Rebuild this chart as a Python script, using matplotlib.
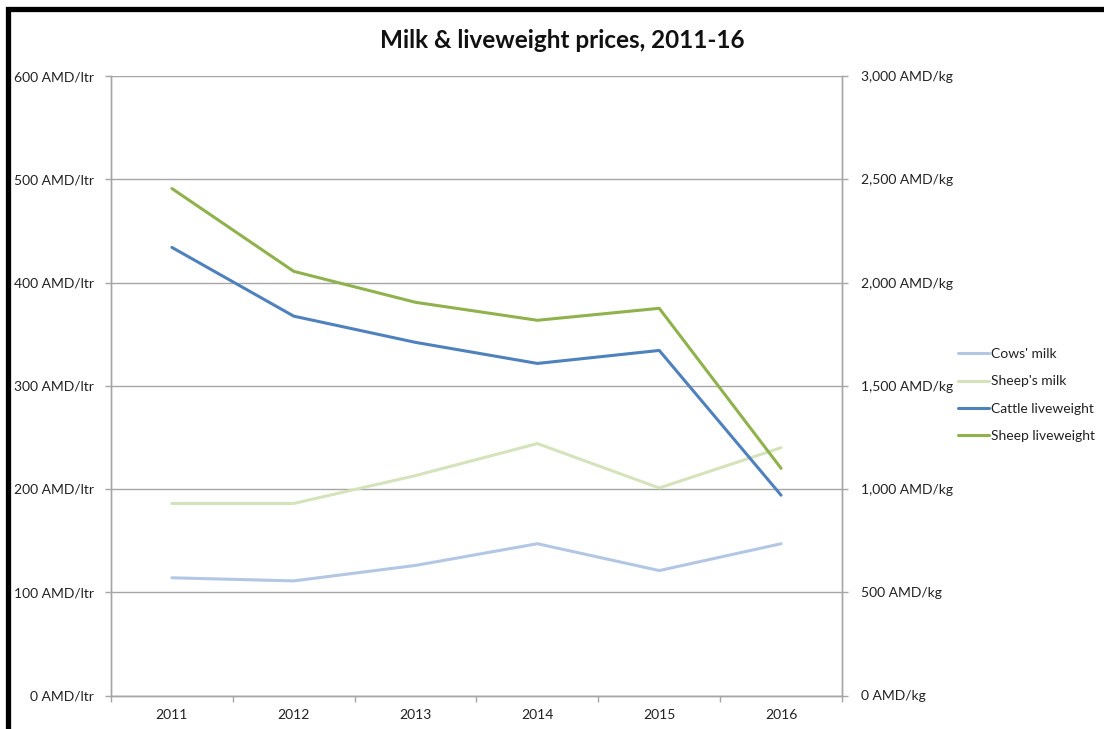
import matplotlib
matplotlib.use("Agg")
import matplotlib.pyplot as plt
from matplotlib.patches import Rectangle
from matplotlib.ticker import FuncFormatter, MultipleLocator, FixedLocator

plt.rcParams['font.family'] = ['Lato', 'DejaVu Sans']

years = ["2011", "2012", "2013", "2014", "2015", "2016"]
cows_milk = [114, 111, 126, 147, 121, 147]          # AMD/ltr
sheeps_milk = [186, 186, 213, 244, 201, 240]        # AMD/ltr
cattle_lw = [2170, 1837, 1710, 1608, 1671, 970]     # AMD/kg
sheep_lw = [2455, 2054, 1904, 1817, 1875, 1100]     # AMD/kg

c_cows = "#b3c7e5"
c_sheepmilk = "#d5e3bb"
c_cattle = "#4f81bd"
c_sheeplw = "#8fb24c"
grid_c = "#a6a6a6"
text_c = "#222222"

fig = plt.figure(figsize=(11.04, 7.29), dpi=100)
ax = fig.add_axes([111/1104, 1-695.5/729, (842-111)/1104, (695.5-76)/729])
ax2 = ax.twinx()

x = list(range(len(years)))
l1, = ax.plot(x, cows_milk, color=c_cows, lw=2.2, label="Cows' milk", solid_capstyle='round')
l2, = ax.plot(x, sheeps_milk, color=c_sheepmilk, lw=2.2, label="Sheep's milk", solid_capstyle='round')
l3, = ax2.plot(x, cattle_lw, color=c_cattle, lw=2.2, label="Cattle liveweight", solid_capstyle='round')
l4, = ax2.plot(x, sheep_lw, color=c_sheeplw, lw=2.2, label="Sheep liveweight", solid_capstyle='round')

ax.set_xlim(-0.5, len(years) - 0.5)
ax.set_ylim(0, 600)
ax2.set_ylim(0, 3000)
ax.yaxis.set_major_locator(MultipleLocator(100))
ax2.yaxis.set_major_locator(MultipleLocator(500))
ax.yaxis.set_major_formatter(FuncFormatter(lambda v, p: f"{int(v)} AMD/ltr"))
ax2.yaxis.set_major_formatter(FuncFormatter(lambda v, p: f"{int(v):,} AMD/kg"))

ax.set_xticks(x)
ax.set_xticklabels(years)
ax.xaxis.set_minor_locator(FixedLocator([i - 0.5 for i in range(len(years) + 1)]))
ax.tick_params(axis='x', which='major', length=0, pad=10, labelsize=10, labelcolor=text_c)
ax.tick_params(axis='x', which='minor', length=4, color=grid_c, width=1)
ax.tick_params(axis='y', length=4, color=grid_c, width=1, pad=8, labelsize=10, labelcolor=text_c)
ax2.tick_params(axis='y', length=4, color=grid_c, width=1, pad=10, labelsize=10, labelcolor=text_c)

ax.grid(axis='y', color=grid_c, lw=1)
ax.set_axisbelow(True)
for a in (ax, ax2):
    for s in a.spines.values():
        s.set_color(grid_c)
        s.set_linewidth(1)
    a.spines['top'].set_visible(False)

fig.text(562/1104, 1 - 41/729, "Milk & liveweight prices, 2011-16",
         ha='center', va='center', fontsize=17.5, fontweight='bold', color='#111111')

fig.legend([l1, l2, l3, l4], [h.get_label() for h in (l1, l2, l3, l4)],
           loc='center left', bbox_to_anchor=(958/1104, 1 - 395/729),
           frameon=False, fontsize=10, handlelength=2.2, handletextpad=0.2,
           labelspacing=1.1, borderpad=0, borderaxespad=0, labelcolor=text_c)

fig.add_artist(Rectangle((8/1104, -0.2), 1.5, 0.2 + (1 - 9/729), transform=fig.transFigure,
                         fill=False, edgecolor='black', lw=3.8, clip_on=False))

fig.savefig("out.png", dpi=100)
